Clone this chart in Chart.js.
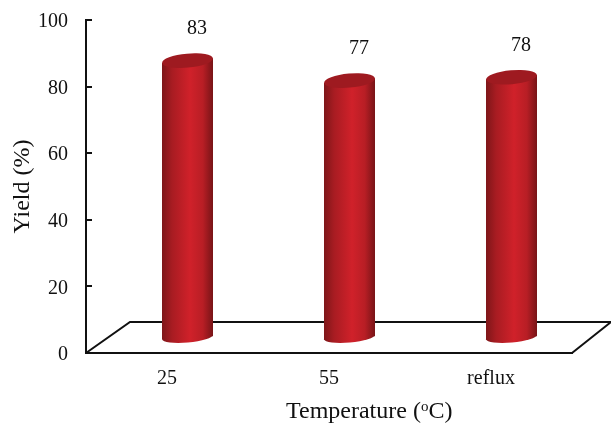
<!DOCTYPE html>
<html>
<head>
<meta charset="utf-8">
<style>
  html, body { margin: 0; padding: 0; background: #fff; }
  #wrap { width: 611px; height: 423px; }
</style>
<script src="https://cdn.jsdelivr.net/npm/chart.js@4"></script>
</head>
<body>
<div id="wrap"><canvas id="myChart"></canvas></div>
<script>
var categories = ['25', '55', 'reflux'];
var yields = [83, 77, 78];
var yTicks = [0, 20, 40, 60, 80, 100];

var serif = '"Liberation Serif", serif';
var depthX = 20.5, depthY = 16;   // shift of the bars onto the 3d floor
var barWidth = 51;
var tilt = -0.09;
var rise = barWidth / 2 * Math.sin(-tilt);   // how far the cap ends move up or down

// horizontal shading so the bars look like cylinders
function cylinderFill(context) {
  if (context.type !== 'data') return '#c8202a';
  var chart = context.chart;
  var cx = chart.scales.x.getPixelForValue(context.dataIndex);
  if (!isFinite(cx)) return '#c8202a';   // layout not done yet
  var g = chart.ctx.createLinearGradient(cx - barWidth / 2, 0, cx + barWidth / 2, 0);
  g.addColorStop(0, '#7e1619');
  g.addColorStop(0.2, '#a81c22');
  g.addColorStop(0.55, '#d0212a');
  g.addColorStop(0.8, '#b81e25');
  g.addColorStop(1, '#781417');
  return g;
}

function slantedBand(c, el, yTop, yBottom) {
  var w = barWidth / 2;
  c.moveTo(el.x - w, yTop + rise);
  c.lineTo(el.x + w, yTop - rise);
  c.lineTo(el.x + w, yBottom - rise);
  c.lineTo(el.x - w, yBottom + rise);
  c.closePath();
}

var floorPlugin = {
  id: 'floor',
  beforeDatasetsDraw: function (chart) {
    var a = chart.chartArea, c = chart.ctx;
    c.save();
    c.strokeStyle = '#111';
    c.lineWidth = 2;
    c.beginPath();
    c.moveTo(a.left, a.bottom);
    c.lineTo(a.left + 44, a.bottom - 31);
    c.lineTo(a.right + 39, a.bottom - 31);
    c.lineTo(a.right, a.bottom);
    c.stroke();
    c.restore();
    // the bars stand further back than the axis
    c.save();
    c.translate(depthX, -depthY);
    // cut the square bar tops along the slant of the cap
    c.save();
    c.beginPath();
    chart.getDatasetMeta(0).data.forEach(function (el) {
      slantedBand(c, el, el.y, el.base + 10);
    });
    c.clip();
  },
  afterDatasetsDraw: function (chart) {
    var c = chart.ctx;
    c.restore();
    chart.getDatasetMeta(0).data.forEach(function (el) {
      c.fillStyle = el.options.backgroundColor;
      // bottom cap
      c.beginPath();
      slantedBand(c, el, el.base - 4, el.base + 1);
      c.fill();
      c.beginPath();
      c.ellipse(el.x, el.base + 1, barWidth / 2, 5.5, tilt, 0, Math.PI * 2);
      c.fill();
      // top cap
      c.beginPath();
      slantedBand(c, el, el.y, el.y + 5);
      c.fill();
      c.fillStyle = '#9e1a20';
      c.beginPath();
      c.ellipse(el.x, el.y, barWidth / 2, 7, tilt, 0, Math.PI * 2);
      c.fill();
    });
    c.restore();

    // value labels
    c.save();
    c.fillStyle = '#111';
    c.font = '20px ' + serif;
    c.textAlign = 'center';
    c.textBaseline = 'middle';
    chart.getDatasetMeta(0).data.forEach(function (el, i) {
      c.fillText(String(yields[i]), el.x + 30, el.y - depthY - 32);
    });
    c.restore();

    // x title, drawn in runs for the raised "o"
    var y = 412;
    var parts = ['Temperature (', 'o', 'C)'];
    var big = '24px ' + serif, small = '15px ' + serif;
    c.save();
    c.fillStyle = '#111';
    c.textBaseline = 'middle';
    c.textAlign = 'left';
    c.font = big;
    var w0 = c.measureText(parts[0]).width;
    c.font = small;
    var w1 = c.measureText(parts[1]).width;
    var x = 286;
    c.font = big;
    c.fillText(parts[0], x, y);
    c.font = small;
    c.fillText(parts[1], x + w0, y - 5);
    c.font = big;
    c.fillText(parts[2], x + w0 + w1, y);
    c.restore();
  }
};

var config = {
  type: 'bar',
  data: {
    labels: categories,
    datasets: [{
      data: yields,
      backgroundColor: cylinderFill,
      borderWidth: 0,
      barThickness: barWidth
    }]
  },
  plugins: [floorPlugin],
  options: {
    responsive: true,
    maintainAspectRatio: false,
    animation: false,
    layout: { padding: { top: 20, right: 39, left: 0, bottom: 0 } },
    plugins: {
      legend: { display: false },
      tooltip: { enabled: false }
    },
    scales: {
      x: {
        grid: { display: false, drawTicks: false },
        border: { color: '#111', width: 2 },
        ticks: { color: '#111', font: { family: serif, size: 20 }, padding: 14, maxRotation: 0 },
        afterFit: function (s) { s.height = 70; }
      },
      y: {
        min: 0,
        max: 100,
        afterBuildTicks: function (s) {
          s.ticks = yTicks.map(function (v) { return { value: v }; });
        },
        grid: { drawOnChartArea: false, color: '#111', lineWidth: 2, tickLength: -6 },
        border: { color: '#111', width: 2 },
        ticks: { color: '#111', font: { family: serif, size: 20 }, padding: 24, labelOffset: 2 },
        title: {
          display: true,
          text: 'Yield (%)',
          color: '#111',
          font: { family: serif, size: 24 },
          padding: { top: 8, bottom: 0 }
        },
        afterFit: function (s) {
          s.width = 86;
          s.paddingTop = 0;
          s.paddingBottom = 0;
        }
      }
    }
  }
};

var myChart = new Chart(document.getElementById('myChart'), config);
</script>
</body>
</html>
